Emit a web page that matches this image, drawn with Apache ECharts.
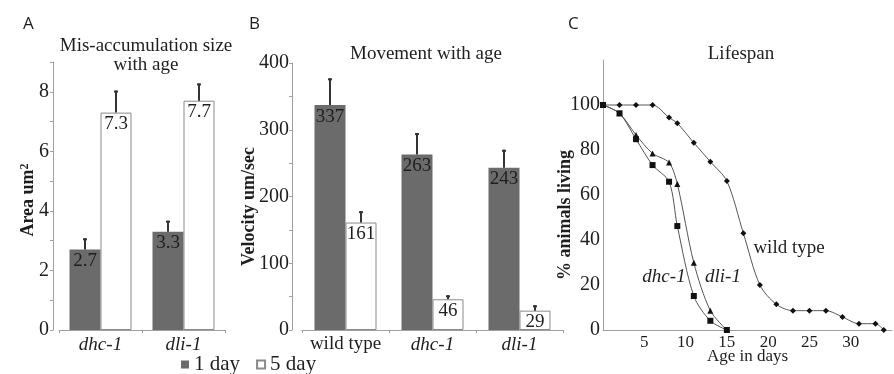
<!DOCTYPE html>
<html>
<head>
<meta charset="utf-8">
<script src="https://cdn.jsdelivr.net/npm/echarts@6/dist/echarts.min.js"></script>
<style>
  html, body { margin: 0; padding: 0; background: #fff; }
  #chart { width: 894px; height: 374px; }
</style>
</head>
<body>
<div id="chart"></div>
<script>
// A: mis-accumulation size
const aCategories = ['dhc-1', 'dli-1'];
const aDay1 = [2.7, 3.3];
const aDay5 = [7.3, 7.7];
const aDay1Err = [3.08, 3.67];
const aDay5Err = [8.04, 8.28];

// B: movement
const bCategories = ['wild type', 'dhc-1', 'dli-1'];
const bDay1 = [337, 263, 243];
const bDay5 = [161, 46, 29];
const bDay1Err = [377, 295, 270];
const bDay5Err = [178, 52, 37];

// C: lifespan
const wildDays = [0, 2, 4, 6, 8, 9, 11, 13, 15, 17, 19, 21, 23, 25, 27, 29, 31, 33, 34];
const wildLiving = [100, 100, 100, 100, 94.4, 91.9, 83.2, 74.8, 66.2, 43, 20, 11.4, 8.6, 8.6, 8.6, 5.8, 2.8, 2.8, 0];
const mutantDays = [0, 2, 4, 6, 8, 9, 11, 13, 15];
const dhcLiving = [100, 96.3, 84.8, 73.3, 65.9, 46.2, 15.1, 4.1, 0];
const dliLiving = [100, 96.3, 86.7, 78.5, 74.4, 64.9, 29.9, 8.6, 0];

const serif = '"Liberation Serif", "Times New Roman", serif';
const dark = '#6b6b6b';
const axisGray = '#a0a0a0';
const ink = '#1e1e1e';

const chart = echarts.init(document.getElementById('chart'));

function pair(xs, ys) {
  return xs.map((x, i) => [x, ys[i]]);
}

// upper half error bar drawn above each bar
function errorBars(idx, vals, tops, shift) {
  return {
    type: 'custom',
    name: 'err',
    xAxisIndex: idx,
    yAxisIndex: idx,
    z: 5,
    silent: true,
    data: vals.map((v, i) => [i, v, tops[i]]),
    renderItem(params, api) {
      const base = api.coord([api.value(0), api.value(1)]);
      const top = api.coord([api.value(0), api.value(2)]);
      const x = base[0] + shift;
      return {
        type: 'group',
        children: [
          { type: 'line', shape: { x1: x, y1: base[1], x2: x, y2: top[1] }, style: { stroke: '#333', lineWidth: 2 } },
          { type: 'line', shape: { x1: x - 2, y1: top[1] + 1, x2: x + 2, y2: top[1] + 1 }, style: { stroke: '#333', lineWidth: 2 } }
        ]
      };
    }
  };
}

function barSeries(name, idx, data, white) {
  return {
    type: 'bar',
    name: name,
    xAxisIndex: idx,
    yAxisIndex: idx,
    data: data,
    barWidth: 31,
    barGap: '0%',
    itemStyle: white ? { color: '#fff', borderColor: '#8a8a8a', borderWidth: 1 } : { color: dark },
    label: {
      show: true,
      position: 'insideTop',
      distance: 2,
      fontFamily: serif,
      fontSize: 19,
      color: ink
    }
  };
}

const catAxis = (idx, cats) => ({
  type: 'category',
  gridIndex: idx,
  data: cats,
  axisLine: { lineStyle: { color: axisGray } },
  axisTick: { show: true, length: 3, lineStyle: { color: axisGray } },
  axisLabel: {
    interval: 0,
    fontFamily: serif,
    fontSize: 19,
    color: ink,
    margin: 5,
    formatter: v => v === 'wild type' ? v : '{i|' + v + '}',
    rich: { i: { fontFamily: serif, fontSize: 19, fontStyle: 'italic', color: ink } }
  }
});

const letterStyle = { fontFamily: '"Open Sans", sans-serif', fontSize: 17, fontWeight: 'normal', color: ink };
const titleStyle = { fontFamily: serif, fontSize: 19, fontWeight: 'normal', lineHeight: 19, color: ink };

chart.setOption({
  animation: false,
  backgroundColor: '#fff',
  title: [
    { text: 'A', left: 18, top: 11, textStyle: letterStyle },
    { text: 'B', left: 244, top: 11, textStyle: letterStyle },
    { text: 'C', left: 563, top: 11, textStyle: letterStyle },
    { text: 'Mis-accumulation size\nwith age', left: 141, top: 32, textAlign: 'center', textStyle: titleStyle },
    { text: 'Movement with age', left: 421, top: 40, textAlign: 'center', textStyle: titleStyle },
    { text: 'Lifespan', left: 736, top: 40, textAlign: 'center', textStyle: titleStyle }
  ],
  legend: {
    data: ['1 day', '5 day'],
    left: 176,
    top: 349,
    icon: 'rect',
    itemWidth: 8,
    itemHeight: 8,
    itemGap: 16,
    textStyle: { fontFamily: serif, fontSize: 21, color: ink }
  },
  grid: [
    { left: 59, top: 62, width: 166, height: 268 },
    { left: 302, top: 63, width: 261, height: 267 },
    { left: 603, top: 60, width: 289, height: 270 }
  ],
  xAxis: [
    catAxis(0, aCategories),
    catAxis(1, bCategories),
    {
      type: 'value',
      gridIndex: 2,
      min: 0,
      max: 35,
      interval: 5,
      axisLine: { show: true, lineStyle: { color: axisGray } },
      axisTick: { show: false },
      splitLine: { show: false },
      axisLabel: { fontFamily: serif, fontSize: 17, color: ink, margin: 4, showMinLabel: false, showMaxLabel: false },
      name: 'Age in days',
      nameLocation: 'middle',
      nameGap: 18,
      nameMoveOverlap: false,
      nameTextStyle: { fontFamily: serif, fontSize: 17, color: ink }
    }
  ],
  yAxis: [
    {
      type: 'value',
      gridIndex: 0,
      min: 0,
      max: 9,
      interval: 1,
      offset: 6,
      axisLine: { show: true, lineStyle: { color: axisGray } },
      axisTick: { show: true, length: 3, lineStyle: { color: axisGray } },
      splitLine: { show: false },
      axisLabel: { fontFamily: serif, fontSize: 20, color: ink, margin: 4, formatter: v => v % 2 === 0 && v < 9 ? v : '' },
      name: '{a|Area um}{s|2}',
      nameLocation: 'middle',
      nameRotate: 90,
      nameGap: 16,
      nameMoveOverlap: false,
      nameTextStyle: {
        padding: [0, 8, 0, 0],
        rich: {
          a: { fontFamily: serif, fontSize: 18, fontWeight: 'bold', color: ink },
          s: { fontFamily: serif, fontSize: 12, fontWeight: 'bold', color: ink, verticalAlign: 'top', padding: [0, 0, 6, 0] }
        }
      }
    },
    {
      type: 'value',
      gridIndex: 1,
      min: 0,
      max: 400,
      interval: 50,
      offset: 10,
      axisLine: { show: true, lineStyle: { color: axisGray } },
      axisTick: { show: true, length: 3, lineStyle: { color: axisGray } },
      splitLine: { show: false },
      axisLabel: { fontFamily: serif, fontSize: 20, color: ink, margin: 3, formatter: v => v % 100 === 0 ? v : '' },
      name: 'Velocity um/sec',
      nameLocation: 'middle',
      nameRotate: 90,
      nameGap: 34,
      nameMoveOverlap: false,
      nameTextStyle: { fontFamily: serif, fontSize: 18, fontWeight: 'bold', color: ink, padding: [0, 20, 0, 0] }
    },
    {
      type: 'value',
      gridIndex: 2,
      min: 0,
      max: 120,
      interval: 20,
      axisLine: { show: true, lineStyle: { color: axisGray } },
      axisTick: { show: false },
      splitLine: { show: false },
      axisLabel: { fontFamily: serif, fontSize: 20, color: ink, margin: 3, formatter: v => v <= 100 ? v : '' },
      name: '% animals living',
      nameLocation: 'middle',
      nameRotate: 90,
      nameGap: 29,
      nameMoveOverlap: false,
      nameTextStyle: { fontFamily: serif, fontSize: 18, fontWeight: 'bold', color: ink, padding: [0, 40, 0, 0] }
    }
  ],
  series: [
    barSeries('1 day', 0, aDay1, false),
    barSeries('5 day', 0, aDay5, true),
    errorBars(0, aDay1, aDay1Err, -15.5),
    errorBars(0, aDay5, aDay5Err, 15.5),
    barSeries('1 day', 1, bDay1, false),
    barSeries('5 day', 1, bDay5, true),
    errorBars(1, bDay1, bDay1Err, -15.5),
    errorBars(1, bDay5, bDay5Err, 15.5),
    {
      type: 'line', name: 'wild type', xAxisIndex: 2, yAxisIndex: 2,
      data: pair(wildDays, wildLiving),
      smooth: 0.3,
      symbol: 'diamond', symbolSize: 6,
      lineStyle: { color: '#555', width: 1 },
      itemStyle: { color: '#111' }
    },
    {
      type: 'line', name: 'dli-1', xAxisIndex: 2, yAxisIndex: 2,
      data: pair(mutantDays, dliLiving),
      smooth: 0.3,
      symbol: 'triangle', symbolSize: 6,
      lineStyle: { color: '#555', width: 1 },
      itemStyle: { color: '#111' }
    },
    {
      type: 'line', name: 'dhc-1', xAxisIndex: 2, yAxisIndex: 2,
      data: pair(mutantDays, dhcLiving),
      smooth: 0.3,
      symbol: 'rect', symbolSize: 6,
      lineStyle: { color: '#555', width: 1 },
      itemStyle: { color: '#111' }
    }
  ],
  graphic: [
    { type: 'text', x: 789, y: 248, style: { text: 'wild type', font: '19px ' + serif, fill: ink, align: 'center', verticalAlign: 'middle' } },
    { type: 'text', x: 664, y: 277, style: { text: 'dhc-1', font: 'italic 19px ' + serif, fill: ink, align: 'center', verticalAlign: 'middle' } },
    { type: 'text', x: 723, y: 277, style: { text: 'dli-1', font: 'italic 19px ' + serif, fill: ink, align: 'center', verticalAlign: 'middle' } }
  ]
});
</script>
</body>
</html>
